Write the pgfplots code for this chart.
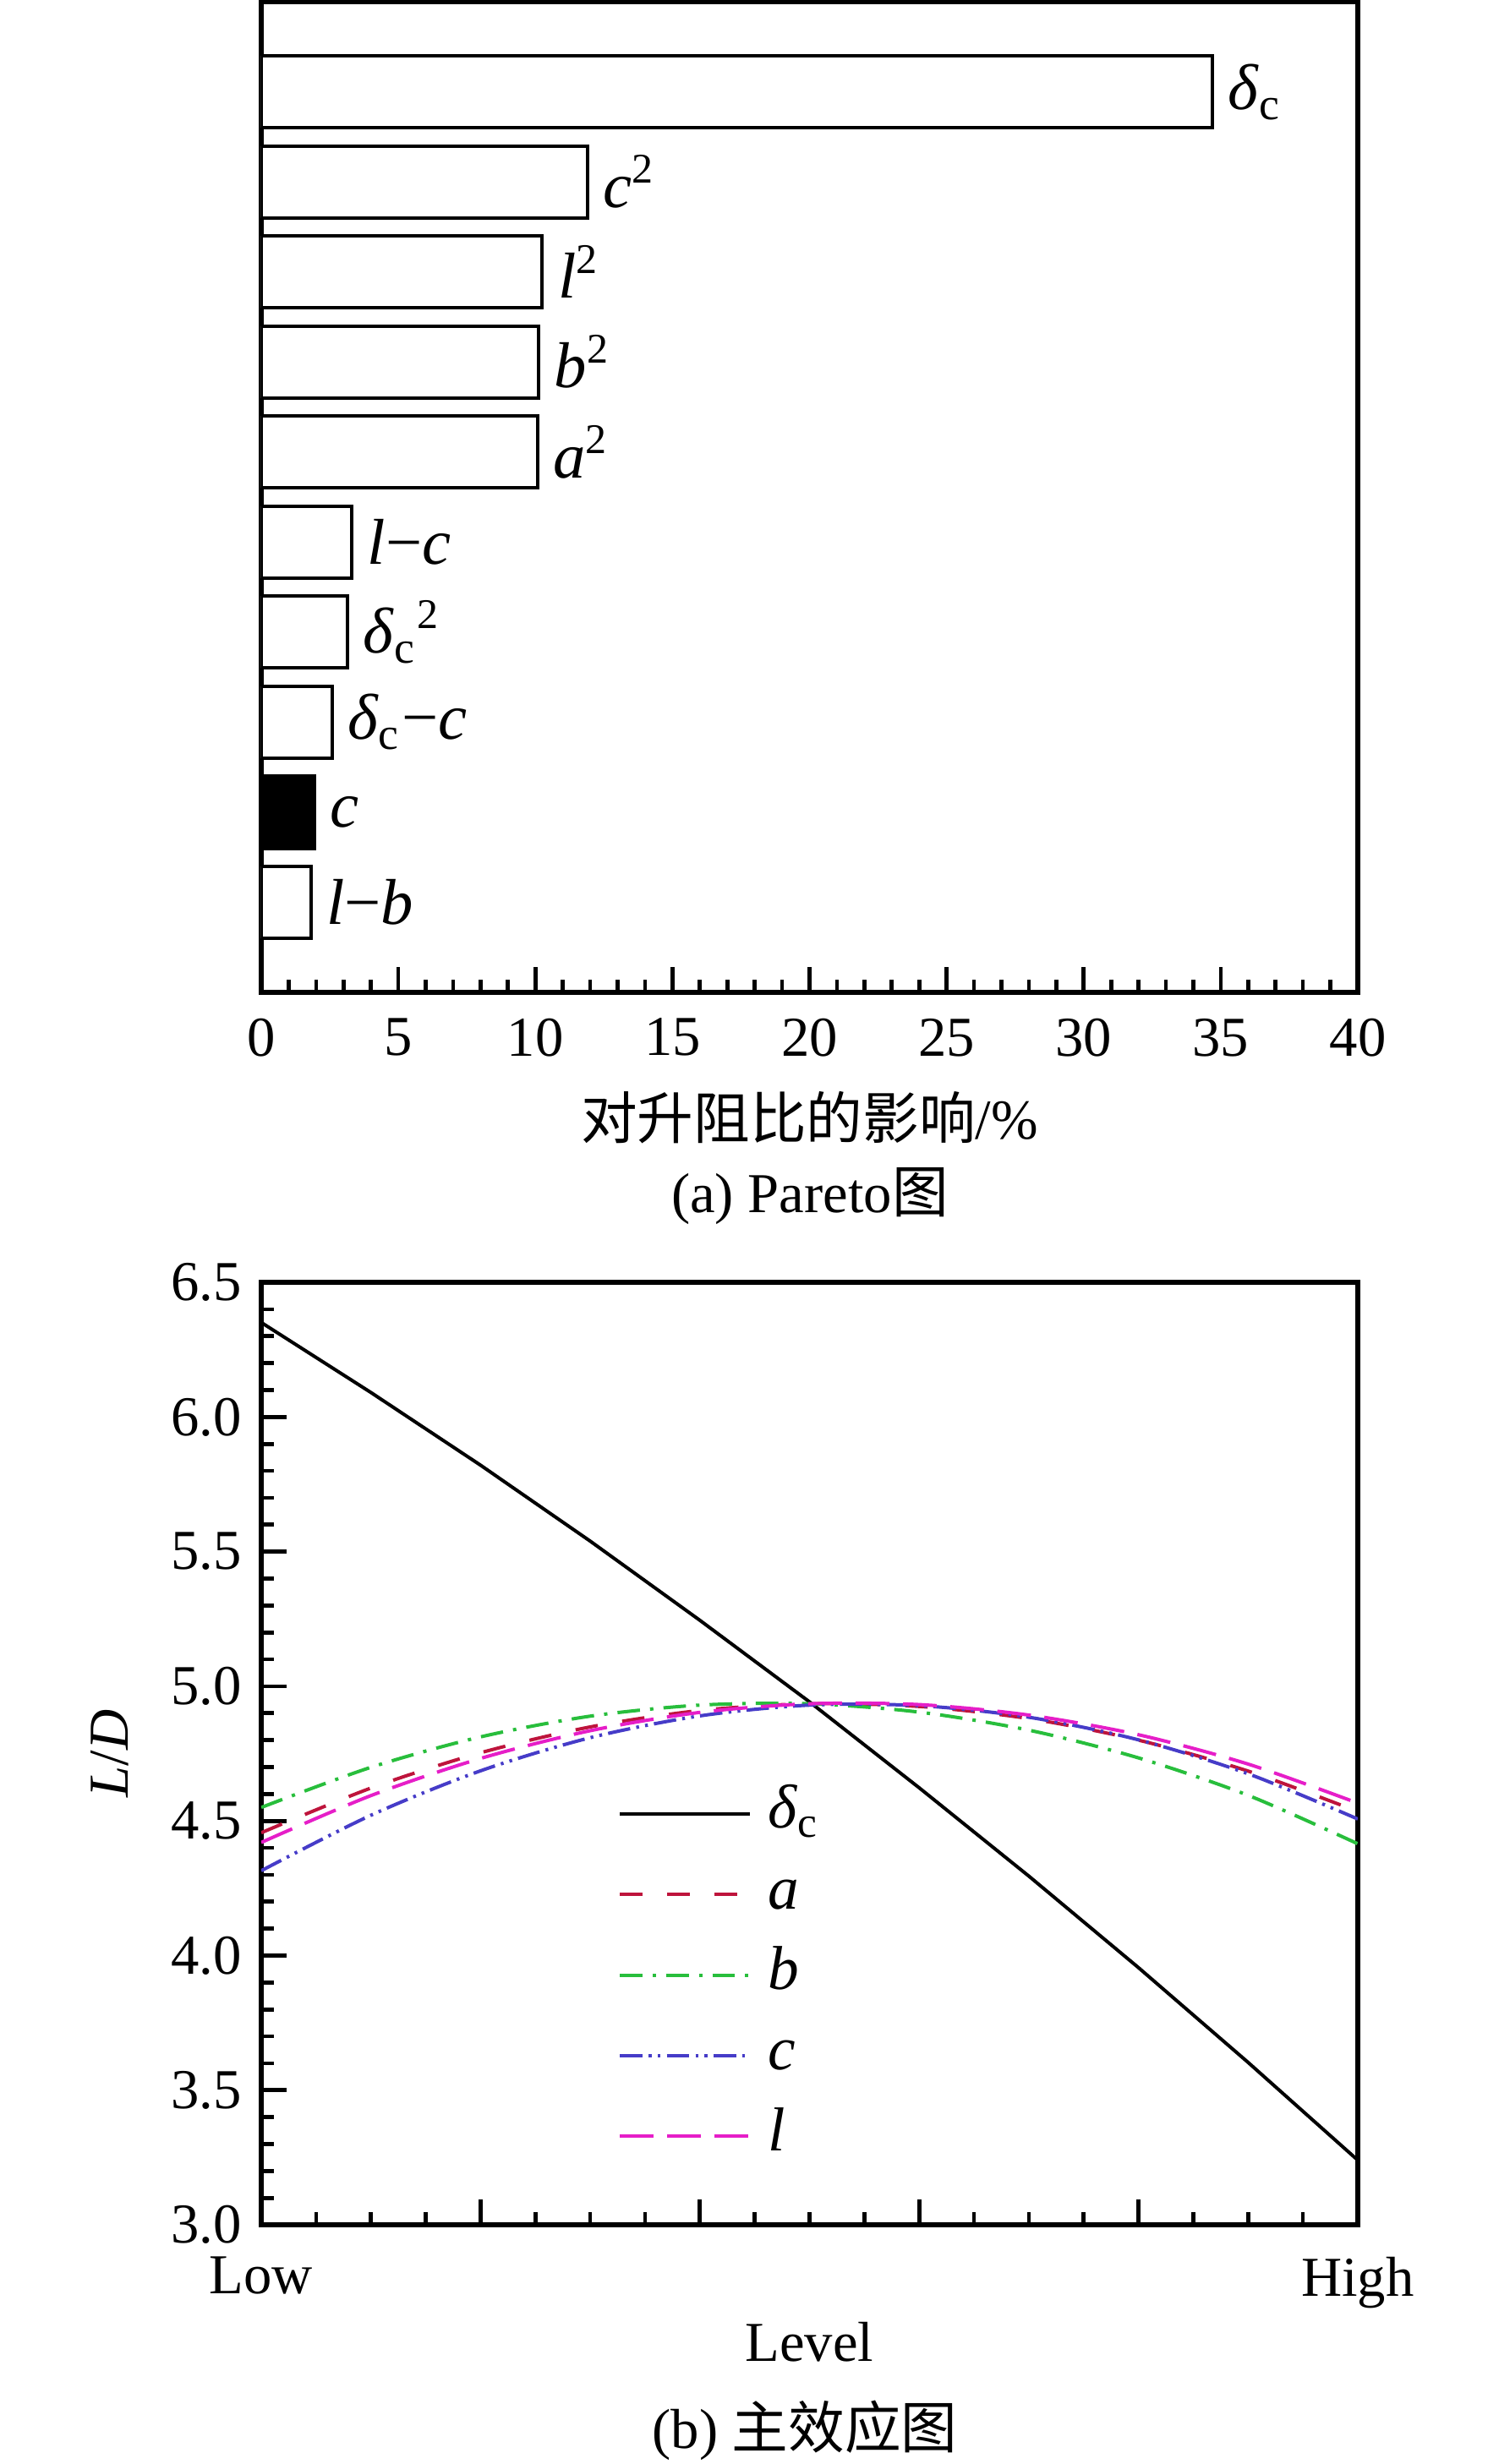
\documentclass[border=0pt]{standalone}
\usepackage{fontspec}
\setmainfont{Liberation Serif}
\newfontfamily\cjk{Noto Sans CJK SC}
\usepackage{pgfplots}
\pgfplotsset{compat=1.18}
\definecolor{ca}{RGB}{190,20,60}
\definecolor{cb}{RGB}{40,190,60}
\definecolor{cc}{RGB}{70,60,200}
\definecolor{cl}{RGB}{230,30,200}
\newcommand\sq{\textsuperscript{\fontsize{7.5}{8}\selectfont 2}}
\begin{document}
\begin{tikzpicture}
\path[use as bounding box] (0pt,0pt) rectangle (265.8pt,-437.25pt);
\pgfplotsset{
 every axis/.append style={
  scale only axis, width=194.55pt,
  axis line style={line width=1pt},
  tick align=inside,
  every tick/.style={black, line width=0.7pt},
  major tick length=4.5pt, minor tick length=2.3pt,
  /pgf/number format/assume math mode=true,
  tick label style={font=\fontsize{10}{12}\selectfont},
  label style={font=\fontsize{10}{12}\selectfont},
 }
}
% (a) Pareto
\begin{axis}[at={(46.35pt,-176.1pt)}, anchor=south west, height=175.8pt,
 xmin=0, xmax=40, ymin=0, ymax=11,
 xtick={0,5,...,40}, minor x tick num=4, ytick=\empty, xtick pos=left,
 xticklabel style={yshift=-1.1pt},
 xlabel={{\cjk 对升阻比的影响}/\%},
 xlabel style={at={(axis description cs:0.5,-0.1263)}, anchor=center},
 nodes near coords style={anchor=west, font=\fontsize{11.5}{13}\selectfont, inner sep=2.5pt},
]
\addplot[xbar, fill=white, draw=black, line width=0.6pt, bar width=0.8, bar shift=0pt,
 nodes near coords, point meta=explicit symbolic] coordinates {
 (34.7,10) [{\textit{δ}\textsubscript{c}}]
 (11.9,9) [{\textit{c}\sq}]
 (10.25,8) [{\textit{l}\sq}]
 (10.12,7) [{\textit{b}\sq}]
 (10.08,6) [{\textit{a}\sq}]
 (3.31,5) [{\textit{l}−\textit{c}}]
 (3.14,4) [{\textit{δ}\textsubscript{c}\sq}]
 (2.58,3) [{\textit{δ}\textsubscript{c}−\textit{c}}]
 (1.81,1) [{\textit{l}−\textit{b}}]
};
\addplot[xbar, fill=black, draw=black, line width=0.6pt, bar width=0.8, bar shift=0pt,
 nodes near coords, point meta=explicit symbolic] coordinates {
 (1.95,2) [{\textit{c}}]
};
\end{axis}
% (b) main effects
\begin{axis}[at={(46.35pt,-394.8pt)}, anchor=south west, height=167.25pt,
 xmin=0, xmax=1, ymin=3, ymax=6.5,
 xtick={0,0.2,0.4,0.6,0.8,1}, xticklabels={Low,,,,,High}, minor x tick num=3,
 xticklabel style={yshift=-2.2pt},
 ytick={3,3.5,4,4.5,5,5.5,6,6.5}, minor y tick num=4,
 yticklabel style={/pgf/number format/.cd, fixed, fixed zerofill, precision=1},
 xtick pos=left, ytick pos=left,
 xlabel={Level},
 xlabel style={at={(axis description cs:0.5,-0.1247)}, anchor=center},
 ylabel={\textit{L}/\textit{D}},
 ylabel style={at={(axis description cs:-0.138,0.5)}, anchor=center},
 legend style={at={(axis description cs:0.3246,0.47)}, anchor=north west, draw=none, fill=none,
   inner sep=0pt, row sep=3.3pt, column sep=3pt,
   nodes={inner sep=0pt, text height=8pt, text depth=3pt},
   font=\fontsize{11}{13}\selectfont},
 legend cell align=left,
 legend image code/.code={\draw[#1] (0pt,0pt) -- (23pt,0pt);},
]
\addplot[black, line width=0.6pt] coordinates {
 (0,6.351) (0.1,6.091) (0.2,5.821) (0.3,5.539) (0.4,5.245) (0.5,4.942)
 (0.6,4.623) (0.7,4.295) (0.8,3.955) (0.9,3.603) (1,3.24)
};
\addlegendentry{\textit{δ}\textsubscript{c}}
\addplot[ca, line width=0.6pt, smooth, dash pattern=on 4pt off 4.4pt] coordinates {
 (0,4.456) (0.1,4.622) (0.2,4.753) (0.3,4.849) (0.4,4.910) (0.5,4.935)
 (0.6,4.925) (0.7,4.880) (0.8,4.800) (0.9,4.685) (1,4.535)
};
\addlegendentry{\textit{a}}
\addplot[cb, line width=0.6pt, smooth, dash pattern=on 4pt off 1.8pt on 0.6pt off 1.8pt] coordinates {
 (0,4.550) (0.1,4.699) (0.2,4.812) (0.3,4.889) (0.4,4.930) (0.5,4.935)
 (0.6,4.904) (0.7,4.837) (0.8,4.734) (0.9,4.595) (1,4.415)
};
\addlegendentry{\textit{b}}
\addplot[cc, line width=0.6pt, smooth, dash pattern=on 4pt off 1.1pt on 0.5pt off 1.1pt on 0.5pt off 1.1pt] coordinates {
 (0,4.315) (0.1,4.521) (0.2,4.686) (0.3,4.809) (0.4,4.890) (0.5,4.930)
 (0.6,4.928) (0.7,4.885) (0.8,4.801) (0.9,4.675) (1,4.507)
};
\addlegendentry{\textit{c}}
\addplot[cl, line width=0.6pt, smooth, dash pattern=on 6pt off 2.4pt] coordinates {
 (0,4.420) (0.1,4.594) (0.2,4.732) (0.3,4.835) (0.4,4.903) (0.5,4.935)
 (0.6,4.932) (0.7,4.893) (0.8,4.820) (0.9,4.711) (1,4.566)
};
\addlegendentry{\textit{l}}
\end{axis}
\node[anchor=center, font=\fontsize{10}{12}\selectfont] at (143.7pt,-212.25pt) {(a) Pareto{\cjk 图}};
\node[anchor=center, font=\fontsize{10}{12}\selectfont] at (142.8pt,-431.25pt) {(b) {\cjk 主效应图}};
\end{tikzpicture}
\end{document}
